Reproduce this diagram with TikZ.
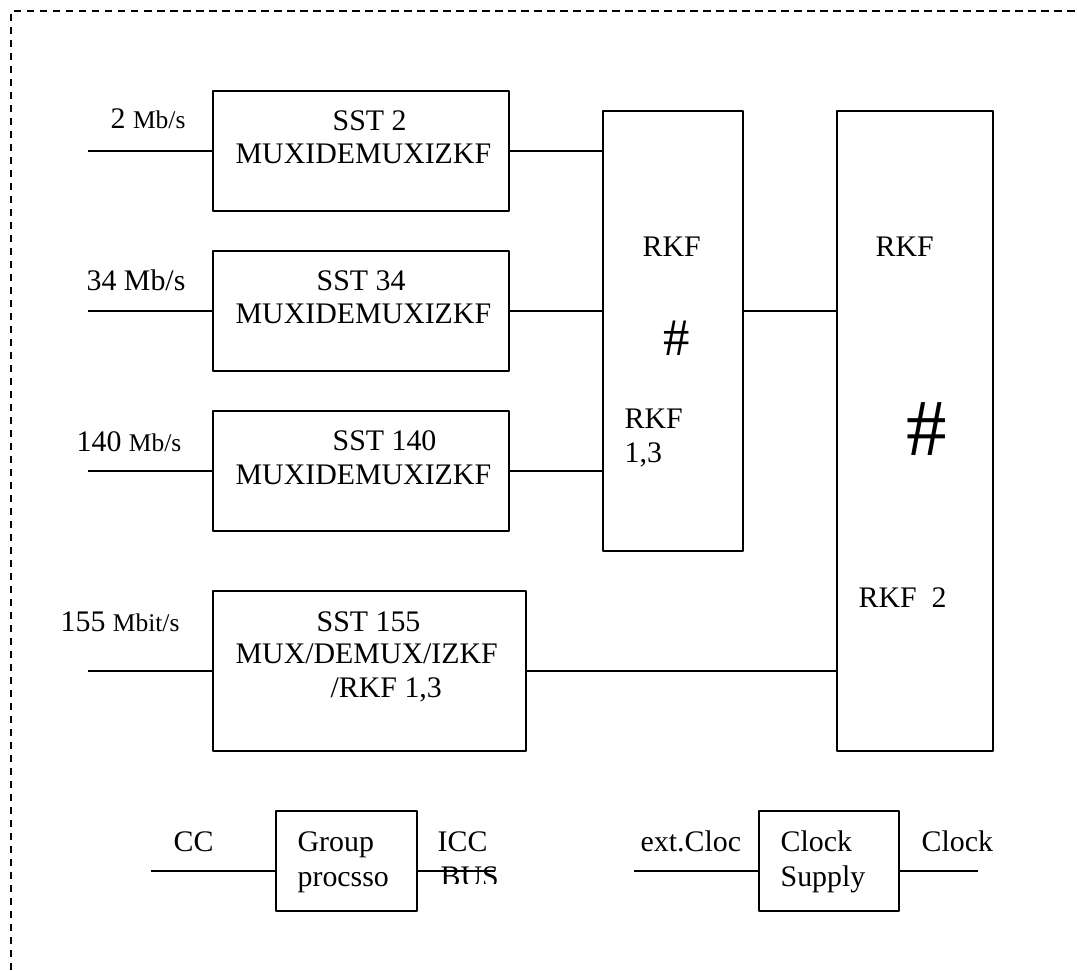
\documentclass[tikz,border=0pt]{standalone}
\usepackage{fontspec}
\setmainfont{Liberation Serif}
\newcommand{\rate}[1]{{\fontsize{14.5}{16}\selectfont #1}}

\begin{document}
\begin{tikzpicture}[x=0.02cm, y=-0.02cm, line width=0.75pt, line join=round,
		blk/.style={draw, rectangle, inner sep=0pt, outer sep=0pt},
		lbl/.style={inner sep=0pt, anchor=base west, font=\fontsize{17}{20}\selectfont}]
		\clip (0,0) rectangle (1077,970);
		\draw[line width=1pt, dash pattern=on 4.2pt off 3.2pt] (11,970) -- (11,11) -- (1077,11);

		\node[blk, minimum width=5.92cm, minimum height=2.4cm] (sstA) at (361,151) {};
		\node[blk, minimum width=5.92cm, minimum height=2.4cm] (sstB) at (361,311) {};
		\node[blk, minimum width=5.92cm, minimum height=2.4cm] (sstC) at (361,471) {};
		\node[blk, minimum width=6.26cm, minimum height=3.2cm] (sstD) at (369.5,671) {};
		\node[blk, minimum width=2.8cm, minimum height=8.8cm] (rkfA) at (673,331) {};
		\node[blk, minimum width=3.12cm, minimum height=12.8cm] (rkfB) at (915,431) {};
		\node[blk, minimum width=2.82cm, minimum height=2cm] (grp) at (346.5,861) {};
		\node[blk, minimum width=2.8cm, minimum height=2cm] (clk) at (829,861) {};

		\coordinate (inA) at (88,151);
		\coordinate (inB) at (88,311);
		\coordinate (inC) at (88,471);
		\coordinate (inD) at (88,671);
		\coordinate (cc) at (151,871);
		\coordinate (icc) at (495,871);
		\coordinate (ext) at (634,871);
		\coordinate (clkout) at (978,871);

		\foreach \s/\i in {sstA/inA,sstB/inB,sstC/inC,sstD/inD}
			\draw (\i) -- (\i -| \s.west);
		\foreach \s in {sstA,sstB,sstC}
			\draw (\s.east) -- (\s.east -| rkfA.west);
		\draw (sstB.east -| rkfA.east) -- (sstB.east -| rkfB.west);
		\draw (sstD.east) -- (sstD.east -| rkfB.west);
		\draw (cc) -- (cc -| grp.west);
		\draw (grp.east |- cc) -- (icc);
		\draw (ext) -- (ext -| clk.west);
		\draw (clk.east |- ext) -- (clkout);

		\node[lbl] (rA) at (110,128) {2 \rate{Mb/s}};
		\node[lbl] (rB) at (86,290) {34 Mb/s};
		\node[lbl] (rC) at (76,451) {140 \rate{Mb/s}};
		\node[lbl] (rD) at (60,631) {155 \rate{Mbit/s}};

		\node[lbl] (tA1) at (332,130) {SST 2};
		\node[lbl] (tA2) at (235,163) {MUXIDEMUXIZKF};
		\node[lbl] (tB1) at (316,290) {SST 34};
		\node[lbl] (tB2) at (235,323) {MUXIDEMUXIZKF};
		\node[lbl] (tC1) at (332,450) {SST 140};
		\node[lbl] (tC2) at (235,484) {MUXIDEMUXIZKF};
		\node[lbl] (tD1) at (316,631) {SST 155};
		\node[lbl] (tD2) at (235,663) {MUX/DEMUX/IZKF};
		\node[lbl] (tD3) at (330,697) {/RKF 1,3};

		\node[lbl] (kA1) at (642,256) {RKF};
		\node[lbl, font=\fontsize{30}{30}\selectfont] (kA2) at (663,355) {\#};
		\node[lbl] (kA3) at (624,428) {RKF};
		\node[lbl] (kA4) at (624,462) {1,3};
		\node[lbl] (kB1) at (875,256) {RKF};
		\node[lbl, font=\fontsize{46}{46}\selectfont] (kB2) at (906,455) {\#};
		\node[lbl] (kB3) at (858,607) {RKF\ \ 2};

		\node[lbl] (gc) at (173,851) {CC};
		\node[lbl] (g1) at (297,851) {Group};
		\node[lbl] (g2) at (297,886) {procsso};
		\node[lbl] (gi) at (437,851) {ICC};
		\begin{scope}
			\clip (430,855) rectangle (510,883);
			\node[lbl] (gb) at (440,886) {BUS};
		\end{scope}

		\node[lbl] (ce) at (640,851) {ext.Cloc};
		\node[lbl] (c1) at (780,851) {Clock};
		\node[lbl] (c2) at (780,886) {Supply};
		\node[lbl] (co) at (921,851) {Clock};
	\end{tikzpicture}
\end{document}
